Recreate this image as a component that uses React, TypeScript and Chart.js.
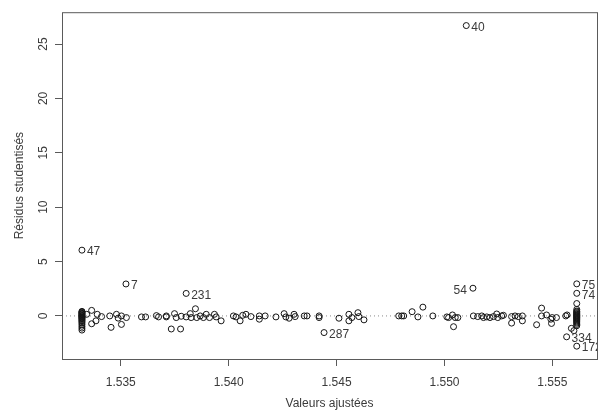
import { useEffect, useRef } from "react";
import { Chart, registerables } from "chart.js";

Chart.register(...registerables);

// Axis ticks and bounds
const xTicks = [1.535, 1.54, 1.545, 1.55, 1.555];
const yTicks = [0, 5, 10, 15, 20, 25];
const xBounds = [1.532276, 1.557068];
const yBounds = [-3.96, 27.93];

// Fitted values and studentized residuals (unlabelled observations)
const fitted = [
  1.5332, 1.5332, 1.5332, 1.5332, 1.5332, 1.5332, 1.5332, 1.5332, 1.5332, 1.5332,
  1.5332, 1.5332, 1.5332, 1.5332, 1.5332, 1.5332, 1.5332, 1.5332, 1.5332, 1.5332,
  1.53342, 1.53365, 1.53365, 1.53385, 1.53391, 1.53411, 1.53449, 1.53455, 1.5348, 1.53488,
  1.53503, 1.53503, 1.53526, 1.53596, 1.53615, 1.53665, 1.53675, 1.53711, 1.53711, 1.53734,
  1.53749, 1.53757, 1.53777, 1.5378, 1.53803, 1.53822, 1.53826, 1.53846, 1.53852, 1.53868,
  1.53883, 1.53896, 1.53911, 1.53934, 1.53942, 1.53965, 1.54022, 1.54034, 1.54053, 1.54065,
  1.5408, 1.54103, 1.54142, 1.54142, 1.54169, 1.54219, 1.54257, 1.54265, 1.5428, 1.54303,
  1.54308, 1.5435, 1.54363, 1.54419, 1.54419, 1.54511, 1.54557, 1.54557, 1.54571, 1.54599,
  1.54603, 1.54627, 1.54788, 1.54802, 1.54811, 1.5485, 1.54877, 1.549, 1.54946, 1.55011,
  1.55019, 1.55037, 1.55042, 1.5505, 1.55062, 1.55134, 1.55154, 1.55173, 1.55181, 1.55196,
  1.55211, 1.55227, 1.55242, 1.55247, 1.55265, 1.55273, 1.55311, 1.55311, 1.55327, 1.55342,
  1.55361, 1.55361, 1.55427, 1.5545, 1.5545, 1.55473, 1.55493, 1.55496, 1.55499, 1.55519,
  1.55562, 1.55568, 1.55588, 1.556,
  1.55613, 1.55613, 1.55613, 1.55613, 1.55613, 1.55613, 1.55613, 1.55613, 1.55613, 1.55613,
  1.55613, 1.55613, 1.55613, 1.55613, 1.55613, 1.55613, 1.55613, 1.55613, 1.55613, 1.55613,
];

const residuals = [
  0.42, 0.36, 0.3, 0.24, 0.18, 0.12, 0.06, 0.0, -0.06, -0.12,
  -0.18, -0.25, -0.33, -0.42, -0.52, -0.64, -0.78, -0.95, -1.12, -1.3,
  0.15, 0.51, -0.72, -0.45, 0.15, -0.06, 0.0, -1.05, 0.15, -0.2,
  -0.78, 0.0, -0.15, -0.09, -0.09, 0.03, -0.09, -0.09, 0.0, -1.2,
  0.21, -0.15, -1.2, -0.03, -0.09, 0.21, -0.15, 0.66, -0.15, 0.0,
  -0.15, 0.15, -0.15, 0.15, -0.09, -0.45, 0.0, -0.09, -0.45, 0.06,
  0.15, -0.06, 0.0, -0.3, 0.0, -0.09, 0.21, -0.09, -0.21, 0.15,
  -0.06, 0.0, 0.0, 0.0, -0.15, -0.21, 0.15, -0.45, -0.15, 0.3,
  -0.06, -0.36, 0.0, 0.0, 0.0, 0.39, -0.09, 0.81, 0.0, -0.09,
  -0.15, 0.09, -0.99, -0.15, -0.15, 0.0, -0.06, 0.0, -0.15, -0.09,
  -0.15, -0.06, 0.18, -0.15, 0.0, 0.06, -0.06, -0.66, 0.0, -0.06,
  0.0, -0.45, -0.81, 0.72, 0.0, 0.09, -0.3, -0.69, -0.15, -0.15,
  0.0, 0.09, -1.14, -1.35,
  1.14, 0.6, 0.45, 0.38, 0.3, 0.22, 0.15, 0.08, 0.02, -0.04,
  -0.1, -0.16, -0.23, -0.3, -0.38, -0.47, -0.56, -0.66, -0.78, -0.9,
];

// Labelled observations
const outlierIds = ["47", "7", "231", "287", "54", "40", "75", "74", "334", "172"];
const outlierFitted = [1.5332, 1.53524, 1.53803, 1.54442, 1.55132, 1.55101, 1.55613, 1.55613, 1.55566, 1.55613];
const outlierResiduals = [6.05, 2.94, 2.07, -1.53, 2.55, 26.7, 2.95, 2.08, -1.92, -2.78];

// Reference line at zero residual
const zeroLineX = [xBounds[0], xBounds[1]];
const zeroLineY = [0, 0];

const FONT = "'Liberation Sans', Arial, Helvetica, sans-serif";
const TEXT = "#3a3a3a";
const FRAME = "#5a5a5a";
const leftLabels = new Set(["54"]);

const framePlugin = {
  id: "frame",
  afterDatasetsDraw(chart: any) {
    const { ctx, chartArea } = chart;
    ctx.save();
    ctx.strokeStyle = FRAME;
    ctx.lineWidth = 1;
    ctx.strokeRect(
      chartArea.left + 0.5,
      chartArea.top + 0.5,
      chartArea.right - chartArea.left,
      chartArea.bottom - chartArea.top
    );
    ctx.restore();
  },
};

const idLabelPlugin = {
  id: "idLabels",
  afterDatasetsDraw(chart: any) {
    const { ctx, chartArea } = chart;
    const meta = chart.getDatasetMeta(2);
    ctx.save();
    ctx.beginPath();
    ctx.rect(chartArea.left, chartArea.top, chartArea.right - chartArea.left, chartArea.bottom - chartArea.top);
    ctx.clip();
    ctx.font = `12px ${FONT}`;
    ctx.fillStyle = TEXT;
    ctx.textBaseline = "middle";
    meta.data.forEach((pt: any, i: number) => {
      const id = outlierIds[i];
      if (leftLabels.has(id)) {
        ctx.textAlign = "right";
        ctx.fillText(id, pt.x - 6, pt.y + 2);
      } else {
        ctx.textAlign = "left";
        ctx.fillText(id, pt.x + 5, pt.y + 2);
      }
    });
    ctx.restore();
  },
};

export default function App() {
  const canvasRef = useRef<HTMLCanvasElement | null>(null);

  useEffect(() => {
    if (!canvasRef.current) return;
    const pointStyle = {
      pointStyle: "circle" as const,
      pointRadius: 3,
      pointHoverRadius: 3,
      pointBorderWidth: 1,
      pointBorderColor: "#151515",
      pointBackgroundColor: "rgba(0,0,0,0)",
      showLine: false,
    };
    const chart = new Chart(canvasRef.current, {
      type: "scatter",
      data: {
        datasets: [
          {
            data: zeroLineX.map((x, i) => ({ x, y: zeroLineY[i] })),
            showLine: true,
            borderColor: "#8a8a8a",
            borderWidth: 1,
            borderDash: [1, 3],
            pointRadius: 0,
            order: 3,
          },
          {
            data: fitted.map((x, i) => ({ x, y: residuals[i] })),
            ...pointStyle,
            order: 1,
          },
          {
            data: outlierFitted.map((x, i) => ({ x, y: outlierResiduals[i] })),
            ...pointStyle,
            order: 0,
          },
        ],
      },
      options: {
        responsive: false,
        animation: false,
        events: [],
        layout: { padding: { top: 5, right: 1, bottom: 0, left: 0 } },
        plugins: { legend: { display: false }, tooltip: { enabled: false } },
        scales: {
          x: {
            type: "linear",
            min: xBounds[0],
            max: xBounds[1],
            afterBuildTicks: (s: any) => {
              s.ticks = xTicks.map((v) => ({ value: v }));
            },
            afterFit: (s: any) => {
              s.height = 56;
            },
            grid: { drawOnChartArea: false, drawTicks: true, tickLength: 7, color: FRAME, lineWidth: 1 },
            border: { display: false },
            ticks: {
              padding: 9,
              color: TEXT,
              font: { family: FONT, size: 12 },
              maxRotation: 0,
              autoSkip: false,
              callback: (v: any) => Number(v).toFixed(3),
            },
            title: {
              display: true,
              text: "Valeurs ajustées",
              color: TEXT,
              font: { family: FONT, size: 12 },
              padding: { top: 0, bottom: 4 },
            },
          },
          y: {
            type: "linear",
            min: yBounds[0],
            max: yBounds[1],
            afterBuildTicks: (s: any) => {
              s.ticks = yTicks.map((v) => ({ value: v }));
            },
            afterFit: (s: any) => {
              s.width = 62;
            },
            grid: { drawOnChartArea: false, drawTicks: true, tickLength: 7, color: FRAME, lineWidth: 1 },
            border: { display: false },
            ticks: {
              padding: 5,
              color: TEXT,
              font: { family: FONT, size: 12 },
              minRotation: 90,
              maxRotation: 90,
              crossAlign: "center",
              autoSkip: false,
              callback: (v: any) => String(v),
            },
            title: {
              display: true,
              text: "Résidus studentisés",
              color: TEXT,
              font: { family: FONT, size: 12 },
              padding: { top: 12, bottom: 0 },
            },
          },
        },
      },
      plugins: [framePlugin, idLabelPlugin],
    });
    return () => chart.destroy();
  }, []);

  return (
    <div style={{ position: "fixed", left: 0, top: 0, width: 601, height: 415, background: "#fff" }}>
      <canvas ref={canvasRef} width={601} height={415} style={{ display: "block" }} />
    </div>
  );
}
